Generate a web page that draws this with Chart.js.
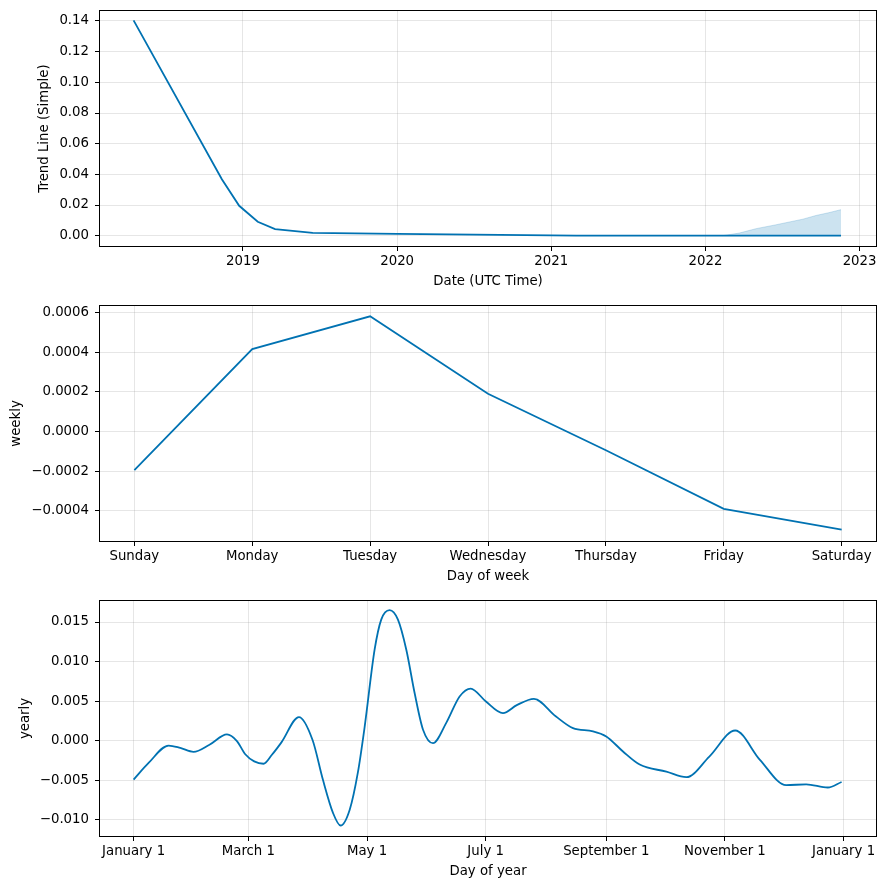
<!DOCTYPE html>
<html>
<head>
<meta charset="utf-8">
<script src="https://cdn.jsdelivr.net/npm/chart.js@4.4.0/dist/chart.umd.min.js"></script>
<style>
  body { margin: 0; background: #fff; }
  canvas { display: block; }
</style>
</head>
<body>
<canvas id="trendChart" width="887" height="295"></canvas>
<canvas id="weeklyChart" width="887" height="295"></canvas>
<canvas id="yearlyChart" width="887" height="300"></canvas>
<script>
// trend component
const trendDates = ['2018-04-17', '2018-11-12', '2018-12-23', '2019-02-05', '2019-03-18', '2019-06-15', '2020-01-01', '2021-01-01', '2021-03-01', '2022-11-18'];
const trendValues = [0.1404, 0.0368, 0.0195, 0.0091, 0.0043, 0.0018, 0.0012, 0.0002, 0.0, 0.0];
const bandDates = ['2022-02-10', '2022-03-22', '2022-05-01', '2022-06-15', '2022-07-25', '2022-08-20', '2022-09-20', '2022-10-20', '2022-11-18'];
const bandUpper = [0, 0.0017, 0.0046, 0.0070, 0.0093, 0.0108, 0.0132, 0.0150, 0.0170];
const bandLower = [0, 0, 0, 0, 0, 0, 0, 0, 0];
const yearTicks = [2019, 2020, 2021, 2022, 2023];
const trendTicks = [0, 0.02, 0.04, 0.06, 0.08, 0.10, 0.12, 0.14];

// weekly component
const weekDays = ['Sunday', 'Monday', 'Tuesday', 'Wednesday', 'Thursday', 'Friday', 'Saturday'];
const weeklyValues = [-0.000195, 0.000415, 0.00058, 0.00019, -0.000095, -0.00039, -0.000495];
const weeklyTicks = [-0.0004, -0.0002, 0, 0.0002, 0.0004, 0.0006];

// yearly component (day of year)
const yearDays = [0, 7.7, 18, 24, 30.8, 39, 48, 53, 57.4, 62, 66.8, 71, 76, 85, 92, 97.3, 102.5, 106.4, 111.1, 115.3, 118.8, 123.9, 127.3, 131.6, 135.9, 140.2, 144.5, 148.8, 153.9, 160.8, 167.6, 173.3, 181, 189.9, 197, 205.8, 217, 225.9, 236.2, 243, 251.6, 260.2, 273.9, 284.2, 296, 309.3, 322, 335.5, 345.8, 356.9, 364];
const yearlyValues = [-0.0049, -0.0028, -0.0006, -0.0009, -0.0014, -0.0005, 0.0008, 0.0000, -0.0017, -0.0026, -0.0029, -0.0018, -0.0002, 0.0030, 0.0001, -0.0049, -0.0091, -0.0107, -0.0087, -0.0040, 0.0018, 0.0115, 0.0153, 0.0165, 0.0153, 0.0115, 0.0060, 0.0014, -0.0003, 0.0023, 0.0056, 0.0066, 0.0050, 0.0035, 0.0045, 0.0053, 0.0031, 0.0016, 0.0012, 0.00055, -0.00135, -0.0030, -0.0039, -0.0046, -0.0020, 0.0013, -0.0024, -0.0056, -0.0055, -0.0059, -0.0052];
const monthTickDays = [0, 59, 120, 181, 243, 304, 365];
const monthTickLabels = ['January 1', 'March 1', 'May 1', 'July 1', 'September 1', 'November 1', 'January 1'];
const yearlyTicks = [-0.010, -0.005, 0, 0.005, 0.010, 0.015];

const lineColor = '#0072B2';
const bandColor = 'rgba(0, 114, 178, 0.2)';
const gridColor = 'rgba(128, 128, 128, 0.2)';

Chart.defaults.font.family = 'DejaVu Sans';
Chart.defaults.font.size = 13.3;
Chart.defaults.color = '#000';

// decimal year from a date string
function toYear(s) {
  const d = new Date(s + 'T00:00:00Z');
  const y = d.getUTCFullYear();
  const start = Date.UTC(y, 0, 1);
  const end = Date.UTC(y + 1, 0, 1);
  return y + (d.getTime() - start) / (end - start);
}

function fmt(v, digits) {
  const s = Math.abs(v) < 1e-12 ? (0).toFixed(digits) : v.toFixed(digits);
  return s.replace('-', '\u2212');
}

// black frame round the plot area, like matplotlib spines
const framePlugin = {
  id: 'frame',
  afterDatasetsDraw(chart) {
    const a = chart.chartArea;
    const ctx = chart.ctx;
    const x0 = Math.round(a.left) + 0.5, y0 = Math.round(a.top) + 0.5;
    const x1 = Math.round(a.right) - 0.5, y1 = Math.round(a.bottom) - 0.5;
    ctx.save();
    ctx.strokeStyle = '#000';
    ctx.lineWidth = 1;
    ctx.strokeRect(x0, y0, x1 - x0, y1 - y0);
    ctx.restore();
  }
};

function xAxis(min, max, tickValues, label, axisHeight, titlePad, labelFn) {
  return {
    type: 'linear',
    min: min,
    max: max,
    afterBuildTicks: s => { s.ticks = tickValues.map(v => ({ value: v })); },
    afterFit: s => { s.height = axisHeight; s.paddingLeft = 0; s.paddingRight = 0; },
    grid: { color: gridColor, lineWidth: 1, tickColor: '#000', tickLength: 4, tickWidth: 1 },
    border: { display: false },
    ticks: { padding: 3, maxRotation: 0, autoSkip: false, callback: labelFn },
    title: { display: true, text: label, padding: { top: 0, bottom: titlePad } }
  };
}

function yAxis(min, max, tickValues, label, titlePad, labelFn) {
  return {
    type: 'linear',
    min: min,
    max: max,
    afterBuildTicks: s => { s.ticks = tickValues.map(v => ({ value: v })); },
    afterFit: s => { s.width = 99; s.paddingTop = 0; s.paddingBottom = 0; },
    grid: { color: gridColor, lineWidth: 1, tickColor: '#000', tickLength: 4, tickWidth: 1 },
    border: { display: false },
    ticks: { padding: 6, autoSkip: false, callback: labelFn },
    title: { display: true, text: label, padding: { top: titlePad, bottom: 0 } }
  };
}

const baseOptions = {
  responsive: false,
  animation: false,
  devicePixelRatio: 1,
  layout: { padding: { left: 0, right: 10, top: 10, bottom: 0 } },
  plugins: { legend: { display: false }, tooltip: { enabled: false } },
  elements: { point: { radius: 0 } }
};

// trend
new Chart(document.getElementById('trendChart'), {
  type: 'line',
  data: {
    datasets: [{
      data: trendDates.map((d, i) => ({ x: toYear(d), y: trendValues[i] })),
      borderColor: lineColor,
      borderWidth: 1.8,
      fill: false,
      order: 0
    }, {
      data: bandDates.map((d, i) => ({ x: toYear(d), y: bandUpper[i] })),
      borderColor: bandColor,
      borderWidth: 1,
      backgroundColor: bandColor,
      fill: '+1',
      order: 1
    }, {
      data: bandDates.map((d, i) => ({ x: toYear(d), y: bandLower[i] })),
      borderWidth: 0,
      borderColor: 'rgba(0,0,0,0)',
      fill: false,
      order: 2
    }]
  },
  options: Object.assign({}, baseOptions, {
    scales: {
      x: xAxis(2018.066, 2023.113, yearTicks, 'Date (UTC Time)', 48, 5, v => String(Math.round(v))),
      y: yAxis(-0.00737, 0.14717, trendTicks, 'Trend Line (Simple)', 37, v => fmt(v, 2))
    }
  }),
  plugins: [framePlugin]
});

// weekly
new Chart(document.getElementById('weeklyChart'), {
  type: 'line',
  data: {
    datasets: [{
      data: weeklyValues.map((v, i) => ({ x: i, y: v })),
      borderColor: lineColor,
      borderWidth: 1.8,
      fill: false
    }]
  },
  options: Object.assign({}, baseOptions, {
    scales: {
      x: xAxis(-0.3, 6.3, weekDays.map((d, i) => i), 'Day of week', 48, 5, v => weekDays[Math.round(v)]),
      y: yAxis(-0.000557, 0.000637, weeklyTicks, 'weekly', 9, v => fmt(v, 4))
    }
  }),
  plugins: [framePlugin]
});

// yearly
new Chart(document.getElementById('yearlyChart'), {
  type: 'line',
  data: {
    datasets: [{
      data: yearDays.map((d, i) => ({ x: d, y: yearlyValues[i] })),
      borderColor: lineColor,
      borderWidth: 1.8,
      cubicInterpolationMode: 'monotone',
      fill: false
    }]
  },
  options: Object.assign({}, baseOptions, {
    scales: {
      x: xAxis(-17.8, 382.2, monthTickDays, 'Day of year', 53, 10, (v, i) => monthTickLabels[i]),
      y: yAxis(-0.01215, 0.01778, yearlyTicks, 'yearly', 18, v => fmt(v, 3))
    }
  }),
  plugins: [framePlugin]
});
</script>
</body>
</html>
